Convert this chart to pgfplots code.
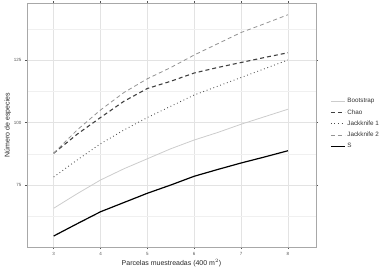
\documentclass[border=0pt]{standalone}
\usepackage{fontspec}
\setmainfont{Liberation Sans}
\usepackage{pgfplots}
\pgfplotsset{compat=1.18}
\definecolor{gridmaj}{HTML}{E3E3E3}
\definecolor{gridmin}{HTML}{F0F0F0}
\definecolor{framec}{HTML}{A8A8A8}
\definecolor{tickc}{HTML}{555555}
\begin{document}
\begin{tikzpicture}
\path[use as bounding box] (-27pt,-27pt) rectangle (365pt,247pt);
\begin{axis}[
  at={(0pt,0pt)}, anchor=south west,
  scale only axis, width=289pt, height=244pt,
  xmin=2.43, xmax=8.6, ymin=50.2, ymax=147.8,
  xtick={3,4,5,6,7,8},
  ytick={75,100,125},
  minor ytick={62.5,87.5,112.5,137.5},
  grid=both,
  major grid style={gridmaj, line width=0.5pt},
  minor grid style={gridmin, line width=0.4pt},
  minor tick length=0pt,
  axis line style={framec, line width=0.8pt},
  tick align=outside, major tick length=2pt,
  tick style={tickc, line width=0.4pt},
  ticklabel style={font=\fontsize{4.5}{5}\selectfont, text=tickc},
  /pgf/number format/assume math mode=true,
  xlabel={Parcelas muestreadas (400 m$^{2}$)},
  ylabel={Número de especies},
  label style={font=\fontsize{7}{8}\selectfont, text=black!85},
  xlabel style={yshift=3pt},
  ylabel style={yshift=-4pt},
  legend style={at={(1.0485,0.618)}, anchor=north west, draw=none, fill=none,
    font=\fontsize{6.3}{7}\selectfont, text=black!80, row sep=1.2pt,
    inner sep=0pt},
  legend cell align=left,
  legend image code/.code={\draw[#1] (0pt,0pt) -- (14pt,0pt);},
]
\addplot[no marks, color=black!20, line width=0.8pt] coordinates {
(3,65.7)(3.5,71.5)(4,77)(4.5,81.5)(5,85.5)(5.5,89.5)(6,93)(6.5,96)(7,99.3)(7.5,102.3)(8,105.3)};
\addlegendentry{Bootstrap}
\addplot[no marks, color=black!75, line width=1.1pt, dash pattern=on 4pt off 3pt] coordinates {
(3,87.7)(3.5,95.3)(4,102)(4.5,108.5)(5,113.6)(5.5,116.5)(6,119.8)(6.5,122)(7,124)(7.5,126)(8,127.9)};
\addlegendentry{Chao}
\addplot[no marks, color=black!70, line width=0.9pt, dash pattern=on 0.8pt off 2.8pt] coordinates {
(3,78.2)(3.5,85)(4,91.5)(4.5,97)(5,102)(5.5,106.5)(6,111)(6.5,114.5)(7,118)(7.5,121.5)(8,125)};
\addlegendentry{Jackknife 1}
\addplot[no marks, color=black!42, line width=0.8pt, dash pattern=on 4pt off 3pt] coordinates {
(3,87.7)(3.5,97)(4,105)(4.5,112)(5,117.5)(5.5,122)(6,127)(6.5,131.5)(7,136)(7.5,139.5)(8,143.1)};
\addlegendentry{Jackknife 2}
\addplot[no marks, color=black, line width=1.2pt] coordinates {
(3,54.6)(3.5,59.5)(4,64.3)(4.5,68)(5,71.7)(5.5,75)(6,78.5)(6.5,81.2)(7,83.8)(7.5,86.2)(8,88.7)};
\addlegendentry{S}
\end{axis}
\end{tikzpicture}
\end{document}
